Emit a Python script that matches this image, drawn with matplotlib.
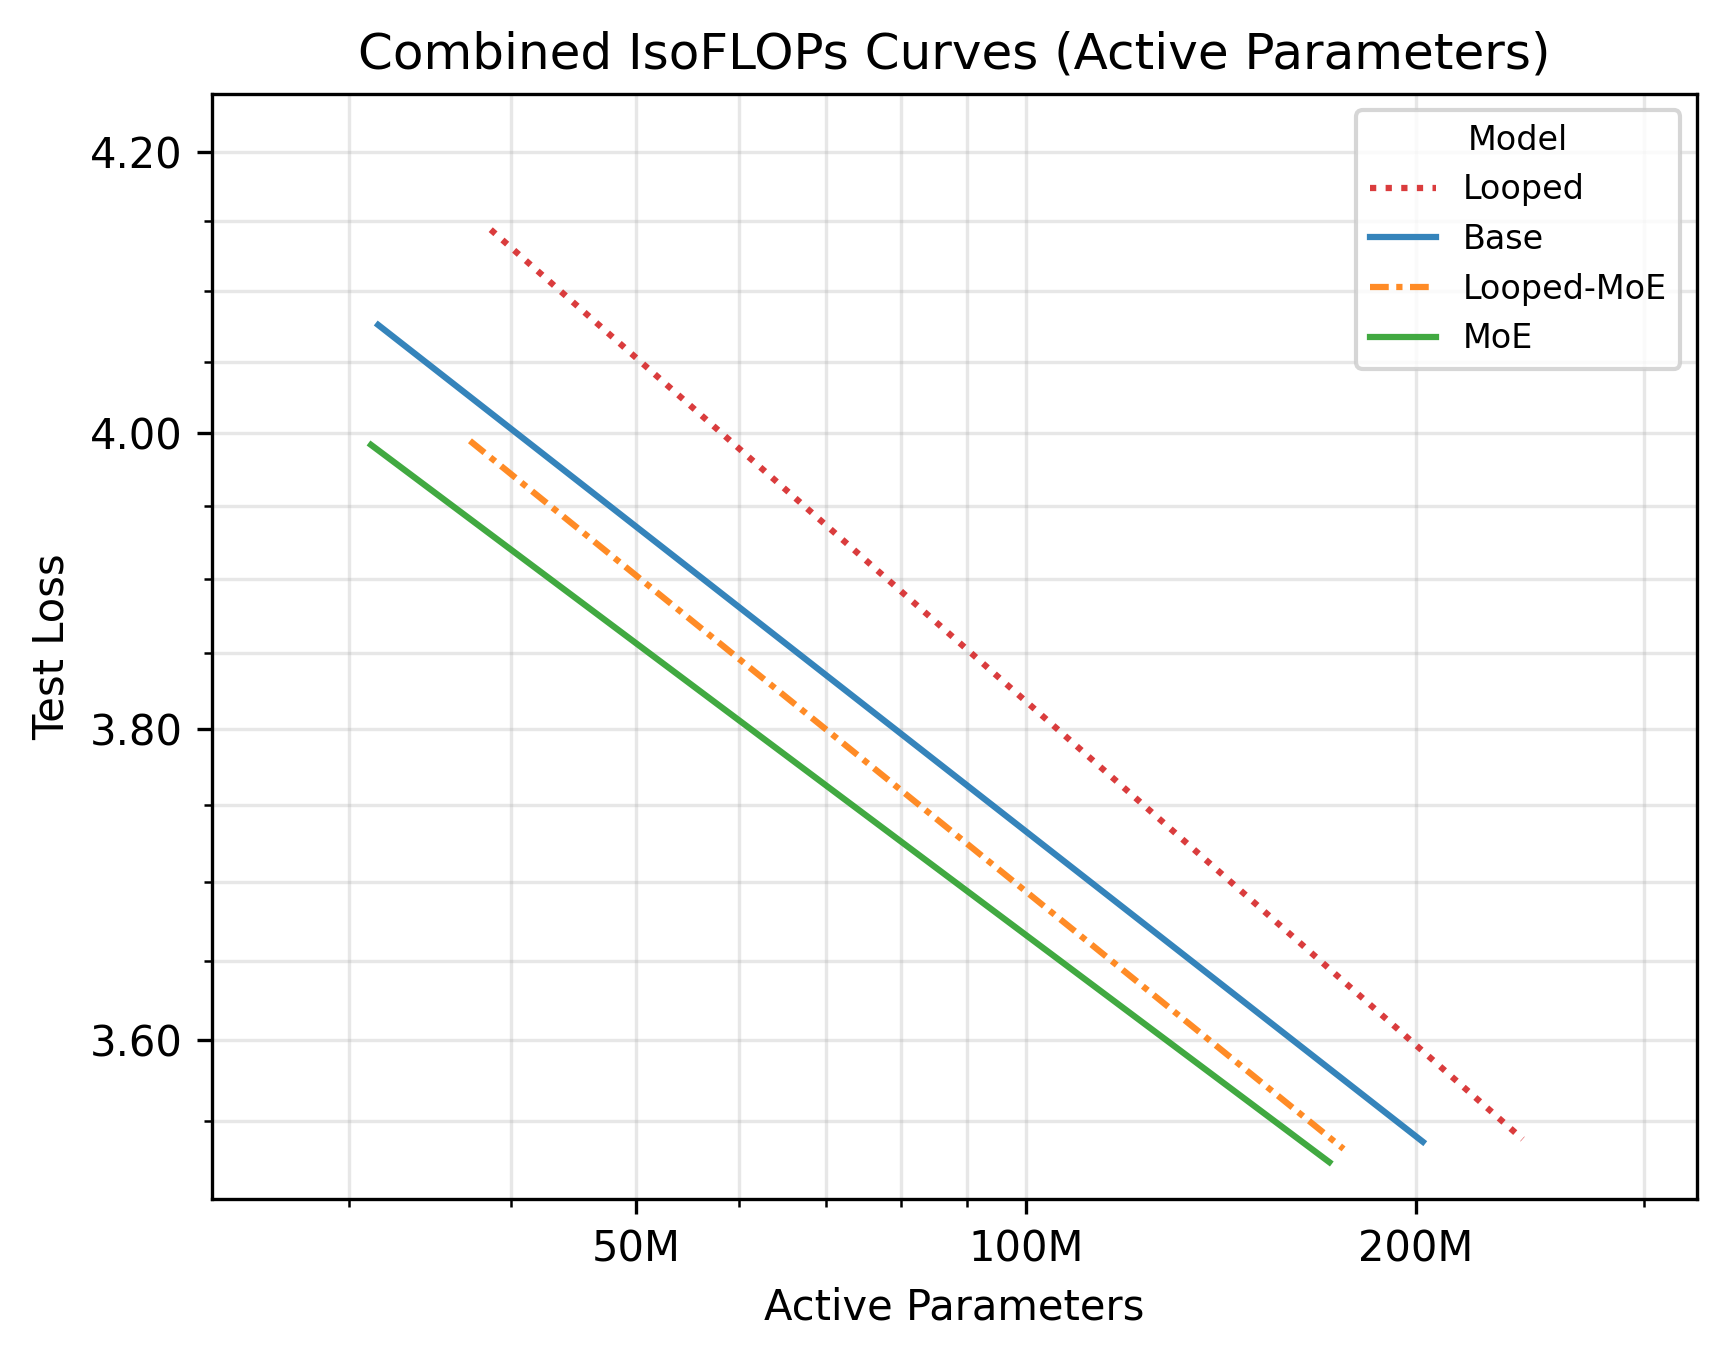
import numpy as np
import matplotlib.pyplot as plt
from matplotlib.ticker import FixedLocator, NullFormatter, LogLocator

# endpoints of each fitted IsoFLOPs line (active params, test loss)
models = ['Looped', 'Base', 'Looped-MoE', 'MoE']
params = {
    'Looped': [38.6e6, 241.7e6],
    'Base': [31.6e6, 202.4e6],
    'Looped-MoE': [37.2e6, 175.8e6],
    'MoE': [31.2e6, 171.4e6],
}
loss = {
    'Looped': [4.144, 3.5386],
    'Base': [4.076, 3.537],
    'Looped-MoE': [3.9948, 3.5326],
    'MoE': [3.992, 3.5245],
}
colors = {'Looped': '#d62728', 'Base': '#1f77b4', 'Looped-MoE': '#ff7f0e', 'MoE': '#2ca02c'}
styles = {'Looped': (0, (1, 1.5)), 'Base': '-', 'Looped-MoE': (0, (3, 1.2, 1, 1.2)), 'MoE': '-'}

x_ticks = [50e6, 100e6, 200e6]
x_labels = ['50M', '100M', '200M']
y_ticks = [3.6, 3.8, 4.0, 4.2]
y_minor = [3.55, 3.65, 3.70, 3.75, 3.85, 3.90, 3.95, 4.05, 4.10, 4.15]

fig = plt.figure(figsize=(5.76, 1361 / 300), dpi=300)
ax = fig.add_axes([0.12245, 0.11903, 0.85967, 0.81212])

for m in models:
    ax.plot(params[m], loss[m], color=colors[m], linestyle=styles[m],
            linewidth=1.5, alpha=0.9, label=m)

ax.set_xscale('log')
ax.set_yscale('log')
ax.set_xlim(23.5e6, 329.6e6)
ax.set_ylim(3.502, 4.243)

ax.xaxis.set_major_locator(FixedLocator(x_ticks))
ax.set_xticklabels(x_labels)
ax.xaxis.set_minor_locator(LogLocator(base=10, subs=np.arange(2, 10)))
ax.xaxis.set_minor_formatter(NullFormatter())

ax.yaxis.set_major_locator(FixedLocator(y_ticks))
ax.set_yticklabels([f'{v:.2f}' for v in y_ticks])
ax.yaxis.set_minor_locator(FixedLocator(y_minor))
ax.yaxis.set_minor_formatter(NullFormatter())

ax.grid(True, which='both', alpha=0.3)
ax.set_xlabel('Active Parameters')
ax.set_ylabel('Test Loss')
ax.set_title('Combined IsoFLOPs Curves (Active Parameters)')
ax.legend(title='Model', fontsize=8, title_fontsize=8, loc='upper right')

fig.savefig('out.png', dpi=300)
